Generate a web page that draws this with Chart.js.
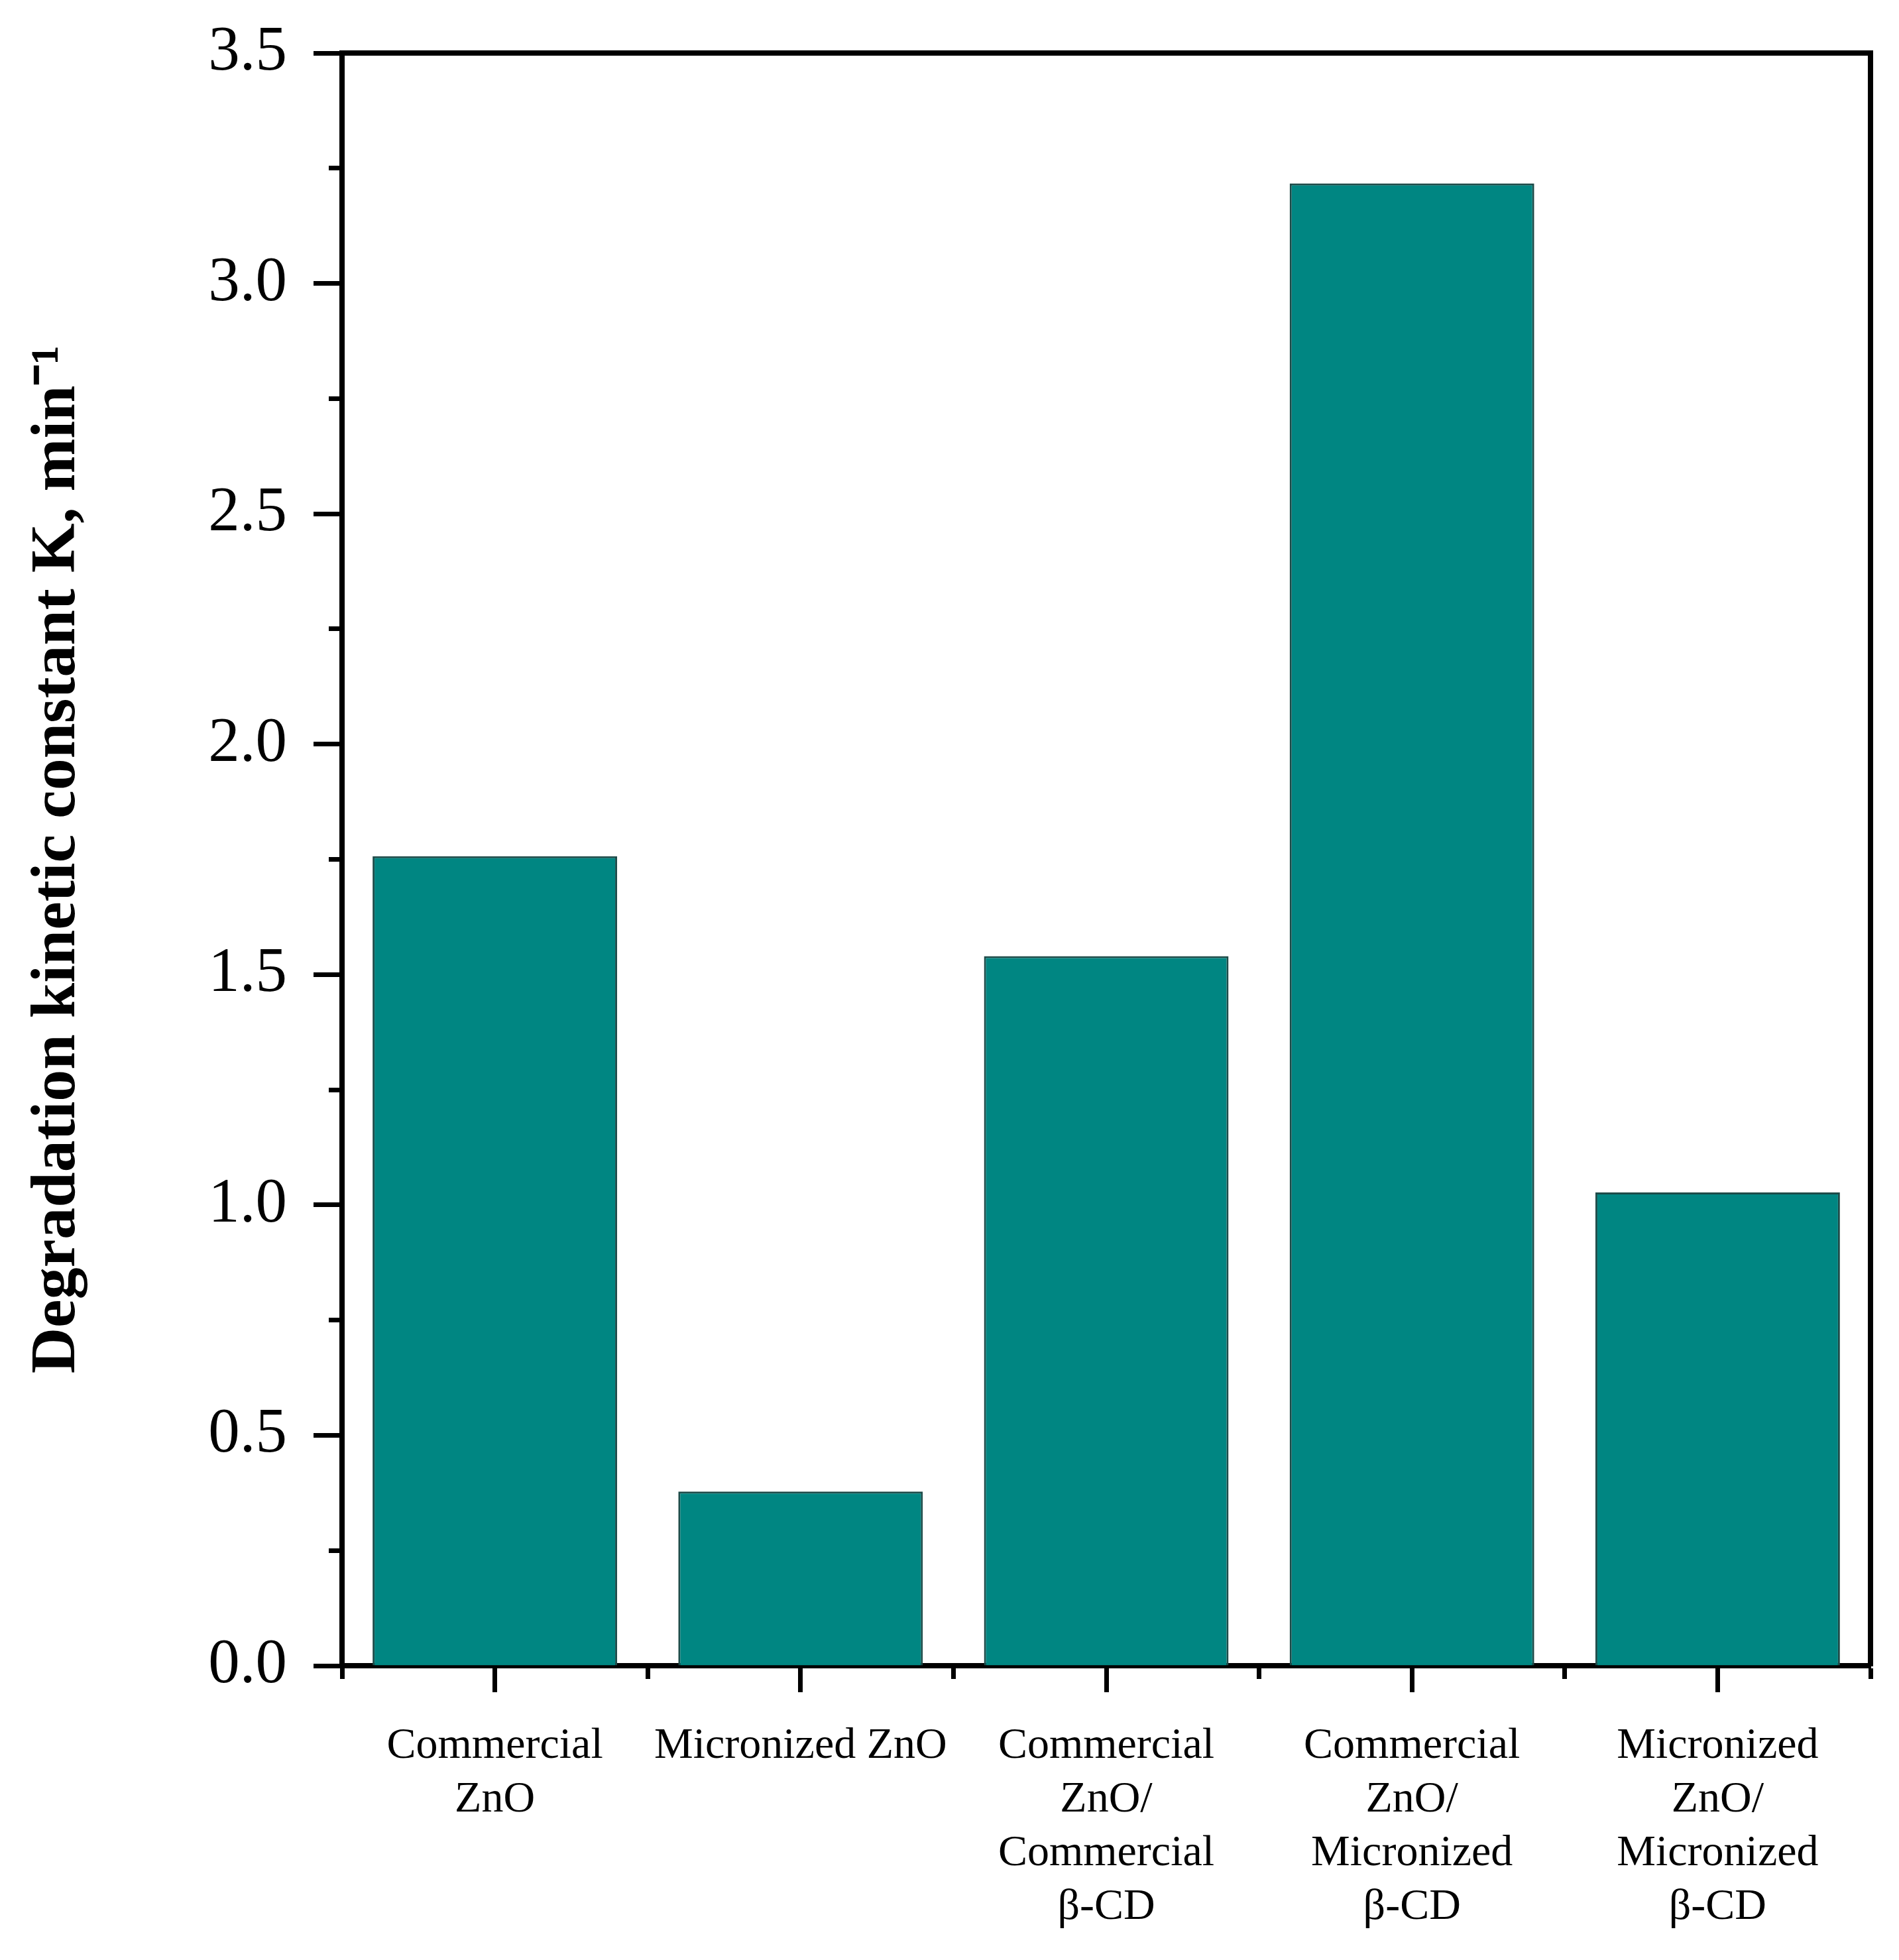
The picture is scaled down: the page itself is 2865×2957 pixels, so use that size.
<!DOCTYPE html>
<html>
<head>
<meta charset="utf-8">
<script src="https://cdn.jsdelivr.net/npm/chart.js@4.4.1/dist/chart.umd.min.js"></script>
<style>
  html, body { margin: 0; padding: 0; background: #fff; }
  #canvas { display: block; }
</style>
</head>
<body>
<canvas id="canvas" width="2865" height="2957" style="width:2865px;height:2957px"></canvas>
<script>
// categories (multi-line tick labels) and the rate constants
const categories = [
  ['Commercial', 'ZnO'],
  'Micronized ZnO',
  ['Commercial', 'ZnO/', 'Commercial', 'β-CD'],
  ['Commercial', 'ZnO/', 'Micronized', 'β-CD'],
  ['Micronized', 'ZnO/', 'Micronized', 'β-CD']
];
const kValues = [1.757, 0.378, 1.540, 3.217, 1.027];
const yRange = [0, 3.5];
const yMajorStep = 0.5;
const yMinorStep = 0.25;
const yTitle = 'Degradation kinetic constant K, min\u207B\u00B9';

const serif = "'Liberation Serif', 'Times New Roman', serif";

// fixed axis sizes so the plot box lands where it is in the figure
function fixSize(w, h) {
  return function (s) {
    if (w !== null) s.width = w;
    if (h !== null) s.height = h;
    s.paddingTop = 0;
    s.paddingBottom = 0;
    s.paddingLeft = 0;
    s.paddingRight = 0;
  };
}

function buildChart() {
  const ctx = document.getElementById('canvas').getContext('2d');

  const tickLine = function (len) {
    return {
      display: true,
      drawOnChartArea: false,
      drawTicks: true,
      tickLength: len,
      tickWidth: 7,
      tickColor: '#000',
      color: '#000'
    };
  };
  const frameOnly = {
    display: true,
    drawOnChartArea: false,
    drawTicks: false
  };
  const axisBorder = { display: true, width: 8, color: '#000' };

  const myChart = new Chart(ctx, {
    type: 'bar',
    data: {
      labels: categories,
      datasets: [
        {
          label: 'K',
          data: kValues,
          xAxisID: 'x',
          yAxisID: 'y',
          backgroundColor: '#008682',
          borderColor: '#1d4b49',
          borderWidth: 3,
          barPercentage: 0.8,
          categoryPercentage: 1.0
        }
      ]
    },
    options: {
      responsive: false,
      devicePixelRatio: 1,
      animation: false,
      layout: { padding: { top: 80, right: 43, left: 0, bottom: 0 } },
      plugins: {
        legend: { display: false },
        tooltip: { enabled: false }
      },
      scales: {
        x: {
          type: 'category',
          position: 'bottom',
          weight: 1,
          z: 1,
          offset: true,
          grid: Object.assign(tickLine(40), { offset: false }),
          border: axisBorder,
          ticks: {
            color: '#000',
            font: { family: serif, size: 66, lineHeight: 1.23 },
            padding: 41,
            autoSkip: false,
            maxRotation: 0,
            minRotation: 0
          },
          afterFit: fixSize(null, 444)
        },
        xMinor: {
          type: 'category',
          position: 'bottom',
          weight: 0,
          z: 1,
          offset: true,
          grid: Object.assign(tickLine(20), { offset: true }),
          border: axisBorder,
          ticks: { display: false },
          afterFit: fixSize(null, 0)
        },
        xTop: {
          type: 'category',
          position: 'top',
          z: 1,
          grid: frameOnly,
          border: axisBorder,
          ticks: { display: false },
          afterFit: fixSize(null, 0)
        },
        y: {
          type: 'linear',
          position: 'left',
          weight: 1,
          z: 1,
          min: yRange[0],
          max: yRange[1],
          grid: tickLine(43),
          border: axisBorder,
          ticks: {
            stepSize: yMajorStep,
            color: '#000',
            font: { family: serif, size: 95 },
            padding: 40,
            callback: function (v) { return v.toFixed(1); }
          },
          title: {
            display: true,
            text: yTitle,
            color: '#000',
            font: { family: serif, size: 96, weight: 'bold', lineHeight: 1.2 },
            padding: { top: 30, bottom: 0 }
          },
          afterFit: fixSize(516, null)
        },
        yMinor: {
          type: 'linear',
          position: 'left',
          weight: 0,
          z: 1,
          min: yRange[0],
          max: yRange[1],
          grid: tickLine(20),
          border: axisBorder,
          ticks: { display: false, stepSize: yMinorStep },
          afterFit: fixSize(0, null)
        },
        yRight: {
          type: 'linear',
          position: 'right',
          z: 1,
          min: yRange[0],
          max: yRange[1],
          grid: frameOnly,
          border: axisBorder,
          ticks: { display: false },
          afterFit: fixSize(0, null)
        }
      }
    }
  });
}
buildChart();
</script>
</body>
</html>
